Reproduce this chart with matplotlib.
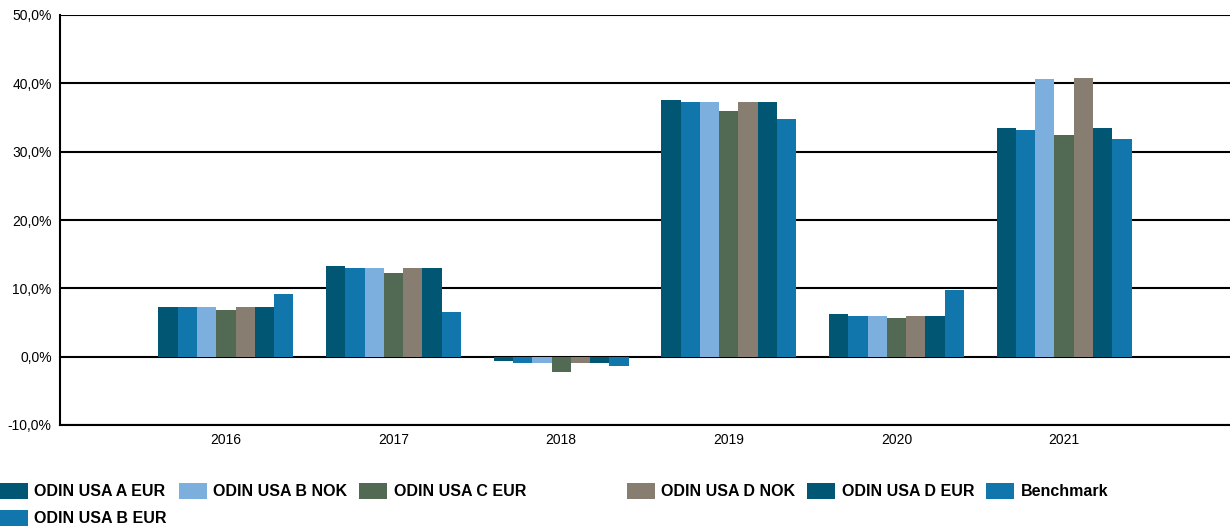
import numpy as np
import matplotlib.pyplot as plt
from matplotlib.ticker import FuncFormatter

years = ['2016', '2017', '2018', '2019', '2020', '2021']

series = ['ODIN USA A EUR', 'ODIN USA B EUR', 'ODIN USA B NOK', 'ODIN USA C EUR',
          'ODIN USA D NOK', 'ODIN USA D EUR', 'Benchmark']

a_eur = [7.2, 13.3, -0.7, 37.6, 6.3, 33.4]
b_eur = [7.2, 13.0, -1.0, 37.3, 6.0, 33.1]
b_nok = [7.2, 13.0, -1.0, 37.3, 6.0, 40.7]
c_eur = [6.9, 12.2, -2.2, 35.9, 5.6, 32.5]
d_nok = [7.2, 13.0, -0.9, 37.3, 6.0, 40.8]
d_eur = [7.2, 13.0, -1.0, 37.3, 6.0, 33.4]
benchmark = [9.1, 6.6, -1.3, 34.8, 9.7, 31.8]

values = [a_eur, b_eur, b_nok, c_eur, d_nok, d_eur, benchmark]
colors = ['#005673', '#1076ab', '#7dafde', '#526a53', '#877d70', '#005673', '#1076ab']

fig = plt.figure(figsize=(12.3, 5.3), dpi=100)
ax = fig.add_axes([60 / 1230, 105 / 530, 1170 / 1230, 410 / 530])

x = np.arange(len(years))
w = 0.115
bars = []
for i, (name, vals, c) in enumerate(zip(series, values, colors)):
    bars.append(ax.bar(x + (i - 3) * w, vals, w, color=c, label=name, zorder=3))

ax.set_xlim(-0.99, 5.99)
ax.set_ylim(-10, 50)
ax.set_yticks(np.arange(-10, 51, 10))
ax.yaxis.set_major_formatter(FuncFormatter(lambda v, p: '{:.1f}%'.format(v).replace('.', ',')))
ax.set_xticks(x)
ax.set_xticklabels(years)
ax.grid(axis='y', color='black', linewidth=1.5, zorder=1)
ax.tick_params(axis='x', length=0, pad=6, labelsize=10)
ax.tick_params(axis='y', length=0, pad=6, labelsize=10)
for lab in ax.get_xticklabels() + ax.get_yticklabels():
    lab.set_family(['Liberation Sans', 'DejaVu Sans'])
for s in ['top', 'right']:
    ax.spines[s].set_visible(False)
ax.spines['left'].set_linewidth(1.5)
ax.spines['bottom'].set_linewidth(1.5)

leg_kw = dict(loc='upper left', ncol=3, frameon=False,
              prop={'family': ['Liberation Sans', 'DejaVu Sans'], 'weight': 'bold', 'size': 11.5},
              handlelength=1.75, handleheight=1.15, handletextpad=0.4,
              columnspacing=0.75, labelspacing=0.65, borderaxespad=0, borderpad=0)

# legend is split in two blocks like the original (wide gap after C EUR)
leg1 = fig.legend(bars[:4], series[:4], bbox_to_anchor=(0.0, 47 / 530), **leg_kw)
leg2 = fig.legend(bars[4:], series[4:], bbox_to_anchor=(627 / 1230, 47 / 530), **leg_kw)

fig.savefig('out.png', dpi=100)
